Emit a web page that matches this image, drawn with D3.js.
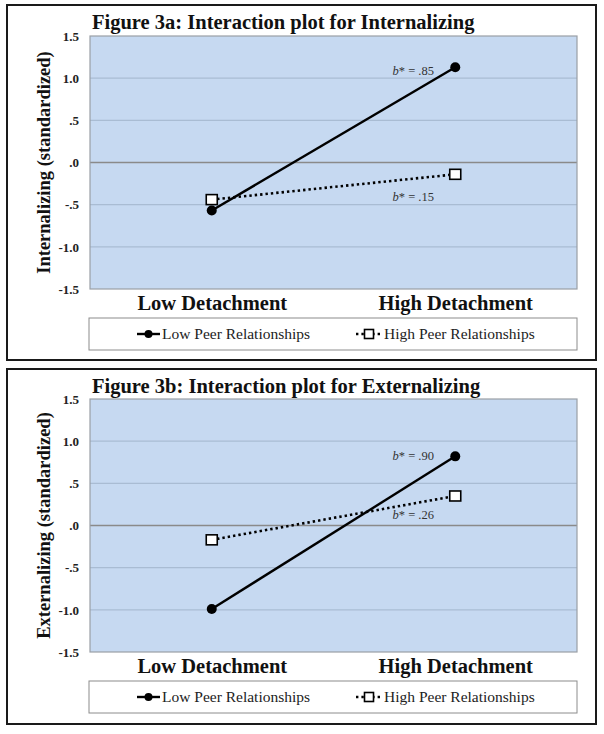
<!DOCTYPE html>
<html>
<head>
<meta charset="utf-8">
<script src="https://cdn.jsdelivr.net/npm/d3@7"></script>
<style>
  html, body { margin: 0; padding: 0; background: #ffffff; }
  svg { display: block; }
</style>
</head>
<body>
<svg id="chart" width="604" height="734"></svg>
<script>
// ---------- DATA ----------
const categories = ["Low Detachment", "High Detachment"];
const seriesNames = ["Low Peer Relationships", "High Peer Relationships"];
const yTicks = [-1.5, -1.0, -0.5, 0.0, 0.5, 1.0, 1.5];
const yTickLabels = ["-1.5", "-1.0", "-.5", ".0", ".5", "1.0", "1.5"];

const titles = ["Figure 3a: Interaction plot for Internalizing", "Figure 3b: Interaction plot for Externalizing"];
const yTitles = ["Internalizing (standardized)", "Externalizing (standardized)"];

const internalizingLowPeer = [-0.57, 1.13];
const internalizingHighPeer = [-0.44, -0.14];
const externalizingLowPeer = [-0.99, 0.82];
const externalizingHighPeer = [-0.17, 0.35];

const internalizingSlopes = [".85", ".15"];
const externalizingSlopes = [".90", ".26"];

// ---------- LAYOUT ----------
const svg = d3.select("#chart");
const FONT = "'Liberation Serif', 'Times New Roman', serif";

const panels = [
  { top: 5, plotTop: 36, low: internalizingLowPeer, high: internalizingHighPeer, slopes: internalizingSlopes, title: titles[0], ytitle: yTitles[0],
    annOffsets: [[-42, 8], [-42, 27]] },
  { top: 369, plotTop: 399, low: externalizingLowPeer, high: externalizingHighPeer, slopes: externalizingSlopes, title: titles[1], ytitle: yTitles[1],
    annOffsets: [[-42, 4], [-42, 23]] }
];

const plotLeft = 90, plotRight = 577, plotH = 253;

panels.forEach(p => {
  const g = svg.append("g");

  // outer frame
  g.append("rect")
    .attr("x", 7).attr("y", p.top)
    .attr("width", 589).attr("height", 355)
    .attr("fill", "#ffffff")
    .attr("stroke", "#1a1a1a").attr("stroke-width", 2);

  const x = d3.scalePoint().domain(categories).range([plotLeft, plotRight]).padding(0.5);
  const y = d3.scaleLinear().domain([-1.5, 1.5]).range([p.plotTop + plotH, p.plotTop]);

  // plot background
  g.append("rect")
    .attr("x", plotLeft).attr("y", p.plotTop)
    .attr("width", plotRight - plotLeft).attr("height", plotH)
    .attr("fill", "#c6d9f1");

  // gridlines
  g.append("g").selectAll("line").data(yTicks.filter(v => v !== 0 && Math.abs(v) !== 1.5))
    .join("line")
    .attr("x1", plotLeft).attr("x2", plotRight)
    .attr("y1", d => y(d)).attr("y2", d => y(d))
    .attr("stroke", "#a9bcd3").attr("stroke-width", 1.2);

  // zero line
  g.append("line")
    .attr("x1", plotLeft).attr("x2", plotRight)
    .attr("y1", y(0)).attr("y2", y(0))
    .attr("stroke", "#8a8a8a").attr("stroke-width", 1.6);

  // plot border
  g.append("rect")
    .attr("x", plotLeft).attr("y", p.plotTop)
    .attr("width", plotRight - plotLeft).attr("height", plotH)
    .attr("fill", "none")
    .attr("stroke", "#9a9fa6").attr("stroke-width", 1.2);

  // y axis tick labels
  const yAxis = d3.axisLeft(y).tickValues(yTicks).tickSize(0).tickPadding(0)
    .tickFormat((d, i) => yTickLabels[i]);
  const ya = g.append("g").attr("transform", `translate(79,0)`).call(yAxis);
  ya.select(".domain").remove();
  ya.selectAll("text")
    .attr("font-family", FONT).attr("font-weight", "bold")
    .attr("font-size", 13).attr("fill", "#222");

  // x axis category labels
  const xAxis = d3.axisBottom(x).tickSize(0).tickPadding(0);
  const xa = g.append("g").attr("transform", `translate(0,${p.plotTop + plotH + 6})`).call(xAxis);
  xa.select(".domain").remove();
  xa.selectAll("text")
    .attr("font-family", FONT).attr("font-weight", "bold")
    .attr("font-size", 20.5).attr("fill", "#111");

  // title
  g.append("text")
    .attr("x", 92).attr("y", p.top + 24)
    .attr("font-family", FONT).attr("font-weight", "bold")
    .attr("font-size", 20.5).attr("fill", "#111")
    .text(p.title);

  // y axis title
  g.append("text")
    .attr("transform", `translate(50,${p.plotTop + plotH / 2}) rotate(-90)`)
    .attr("text-anchor", "middle")
    .attr("font-family", FONT).attr("font-weight", "bold")
    .attr("font-size", 18.5).attr("fill", "#111")
    .text(p.ytitle);

  // lines
  const line = d3.line().x((d, i) => x(categories[i])).y(d => y(d));
  g.append("path").datum(p.high)
    .attr("d", line).attr("fill", "none")
    .attr("stroke", "#000").attr("stroke-width", 2.6)
    .attr("stroke-dasharray", "2.4,3");
  g.append("path").datum(p.low)
    .attr("d", line).attr("fill", "none")
    .attr("stroke", "#000").attr("stroke-width", 2.4);

  // markers
  g.append("g").selectAll("circle").data(p.low).join("circle")
    .attr("cx", (d, i) => x(categories[i])).attr("cy", d => y(d))
    .attr("r", 5).attr("fill", "#000");
  g.append("g").selectAll("rect").data(p.high).join("rect")
    .attr("x", (d, i) => x(categories[i]) - 5.5).attr("y", d => y(d) - 5)
    .attr("width", 11).attr("height", 10)
    .attr("fill", "#fff").attr("stroke", "#000").attr("stroke-width", 1.6);

  // slope annotations
  const annY = [p.low[1], p.high[1]];
  p.slopes.forEach((s, i) => {
    const t = g.append("text")
      .attr("x", x(categories[1]) + p.annOffsets[i][0])
      .attr("y", y(annY[i]) + p.annOffsets[i][1])
      .attr("text-anchor", "middle")
      .attr("font-family", FONT).attr("font-size", 12.5).attr("fill", "#333");
    t.append("tspan").attr("font-style", "italic").text("b");
    t.append("tspan").text("* = " + s);
  });

  // legend
  const ly = p.plotTop + 282;
  g.append("rect")
    .attr("x", plotLeft - 1).attr("y", ly)
    .attr("width", plotRight - plotLeft + 1).attr("height", 32)
    .attr("fill", "#fff").attr("stroke", "#8c8c8c").attr("stroke-width", 1);
  const lcy = ly + 16;
  // item 1
  g.append("line").attr("x1", 137).attr("x2", 160).attr("y1", lcy).attr("y2", lcy)
    .attr("stroke", "#000").attr("stroke-width", 2.4);
  g.append("circle").attr("cx", 148.5).attr("cy", lcy).attr("r", 4).attr("fill", "#000");
  g.append("text").attr("x", 162).attr("y", lcy + 5)
    .attr("font-family", FONT).attr("font-size", 15.5).attr("fill", "#222")
    .text(seriesNames[0]);
  // item 2
  g.append("line").attr("x1", 356).attr("x2", 382).attr("y1", lcy).attr("y2", lcy)
    .attr("stroke", "#000").attr("stroke-width", 2.6).attr("stroke-dasharray", "2.4,3");
  g.append("rect").attr("x", 364.5).attr("y", lcy - 4.5).attr("width", 9).attr("height", 9)
    .attr("fill", "#fff").attr("stroke", "#000").attr("stroke-width", 1.6);
  g.append("text").attr("x", 384).attr("y", lcy + 5)
    .attr("font-family", FONT).attr("font-size", 15.5).attr("fill", "#222")
    .text(seriesNames[1]);
});
</script>
</body>
</html>
